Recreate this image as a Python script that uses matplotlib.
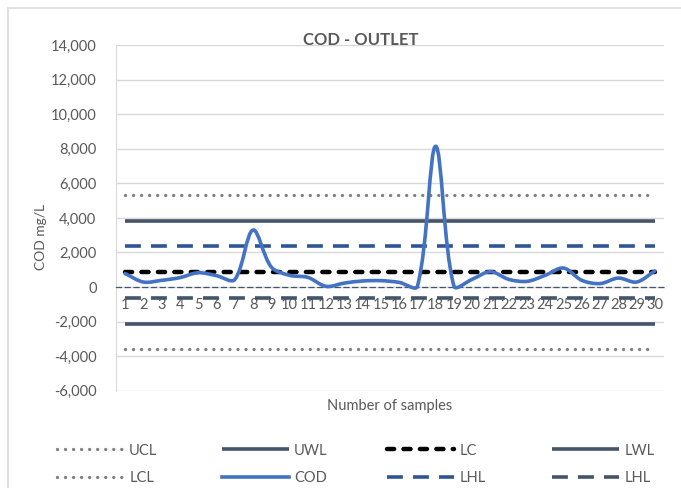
import numpy as np
import matplotlib
matplotlib.use("Agg")
import matplotlib.pyplot as plt
from matplotlib.path import Path
from matplotlib.patches import PathPatch, Rectangle
from matplotlib.lines import Line2D

# ---- data ----
samples = list(range(1, 31))
cod = [780, 290, 390, 545, 830, 660, 430, 3300, 1160, 680,
       560, 40, 230, 350, 370, 270, 40, 8150, 50, 450,
       890, 445, 330, 680, 1100, 390, 200, 520, 290, 930]
ucl = 5320
uwl = 3830
lhl_upper = 2350
lc = 860
lhl_lower = -630
lwl = -2110
lcl = -3610
yticks = list(range(-6000, 14001, 2000))

plt.rcParams['font.family'] = ['Lato', 'DejaVu Sans']
txt = '#595959'

fig = plt.figure(figsize=(6.81, 4.88), dpi=100)
fig.patches.append(Rectangle((8/681, -0.1), 1.2, 1 - 8/488 + 0.1,
                             transform=fig.transFigure, fill=False,
                             edgecolor='#d9d9d9', lw=1.2))
ax = fig.add_axes([116/681, 1 - 390.7/488, (664-116)/681, (390.7-45.2)/488])

n = len(samples)
xs = np.array(samples, dtype=float)

def hline(val, **kw):
    return ax.plot(xs, [val]*n, **kw)[0]

dot = dict(color='#7f7f7f', lw=2.4, linestyle=(0, (0.01, 2.4)),
           dash_capstyle='round', solid_capstyle='round')
h_ucl = hline(ucl, **dot)
h_uwl = hline(uwl, color='#44546a', lw=2.6, solid_capstyle='butt')
h_lhlu = hline(lhl_upper, color='#2f5597', lw=2.6, linestyle=(0, (4.4, 2.8)))
h_lc = hline(lc, color='#000000', lw=3.2, linestyle=(0, (1.6, 2.1)),
             dash_capstyle='round')
h_lhll = hline(lhl_lower, color='#44546a', lw=2.6, linestyle=(0, (4.4, 2.8)))
h_lwl = hline(lwl, color='#44546a', lw=2.6, solid_capstyle='butt')
h_lcl = hline(lcl, **dot)

ax.set_xlim(0.5, 30.5)
ax.set_ylim(-6000, 14000)

# smoothed COD line (Bezier through the data points, tangents weighted by
# segment lengths in screen space so that steep jumps don't overshoot)
ys = np.array(cod, dtype=float)
sx, sy = 18.27, 17.25 / 1000.0
P = np.column_stack([xs * sx, ys * sy])
cin = np.zeros_like(P)
cout = np.zeros_like(P)
for i in range(n):
    prev = P[i-1] if i > 0 else P[i]
    nxt = P[i+1] if i < n - 1 else P[i]
    d = nxt - prev
    lp = np.linalg.norm(P[i] - prev)
    ln = np.linalg.norm(nxt - P[i])
    tot = lp + ln if lp + ln > 0 else 1.0
    cin[i] = P[i] - d * (1/3) * lp / tot
    cout[i] = P[i] + d * (1/3) * ln / tot
verts = [P[0]]
codes = [Path.MOVETO]
for i in range(n - 1):
    verts += [cout[i], cin[i+1], P[i+1]]
    codes += [Path.CURVE4] * 3
verts = np.array(verts)
verts[:, 0] /= sx
verts[:, 1] /= sy
ax.add_patch(PathPatch(Path(verts, codes), fill=False, edgecolor='#4472c4',
                       lw=2.6, capstyle='round', joinstyle='round', zorder=5))
h_cod = Line2D([], [], color='#4472c4', lw=2.6)

ax.set_yticks(yticks)
ax.set_yticklabels([f"{v:,}" for v in yticks])
ax.set_xticks(samples)
ax.set_xticklabels([str(s) for s in samples])
ax.grid(axis='y', color='#d9d9d9', lw=1)
ax.set_axisbelow(True)
for s in ['top', 'right']:
    ax.spines[s].set_visible(False)
ax.spines['left'].set_color('#d9d9d9')
ax.spines['bottom'].set_position(('data', 0))
ax.spines['bottom'].set_color('#44546a')
ax.spines['bottom'].set_linestyle((0, (4, 3)))
ax.spines['bottom'].set_linewidth(0.9)
ax.tick_params(axis='both', length=0, colors=txt, labelsize=10.5)
ax.tick_params(axis='x', pad=8)
ax.tick_params(axis='y', pad=14)

fig.text(41/681, 1 - 237/488, 'COD mg/L', color=txt, fontsize=10,
         rotation=90, ha='center', va='center')
fig.text(390/681, 1 - 406/488, 'Number of samples', color=txt, fontsize=10.5,
         ha='center', va='center')
fig.text(361/681, 1 - 40/488, 'COD - OUTLET', color=txt, fontsize=12,
         fontweight='bold', ha='center', va='center')

# legend: four columns, two rows
columns = [([h_ucl, h_lcl], ['UCL', 'LCL']),
           ([h_uwl, h_cod], ['UWL', 'COD']),
           ([h_lc, h_lhlu], ['LC', 'LHL']),
           ([h_lwl, h_lhll], ['LWL', 'LHL'])]
col_x = [57, 222, 387, 552]
for (hs, ls), x0 in zip(columns, col_x):
    fig.legend(hs, ls, loc='center left', borderpad=0, borderaxespad=0,
               bbox_to_anchor=(x0/681, 1 - 464.5/488), frameon=False,
               fontsize=10.5, handlelength=4.6, labelspacing=0.95,
               handletextpad=0.35, labelcolor=txt)

fig.savefig('out.png', dpi=100)
